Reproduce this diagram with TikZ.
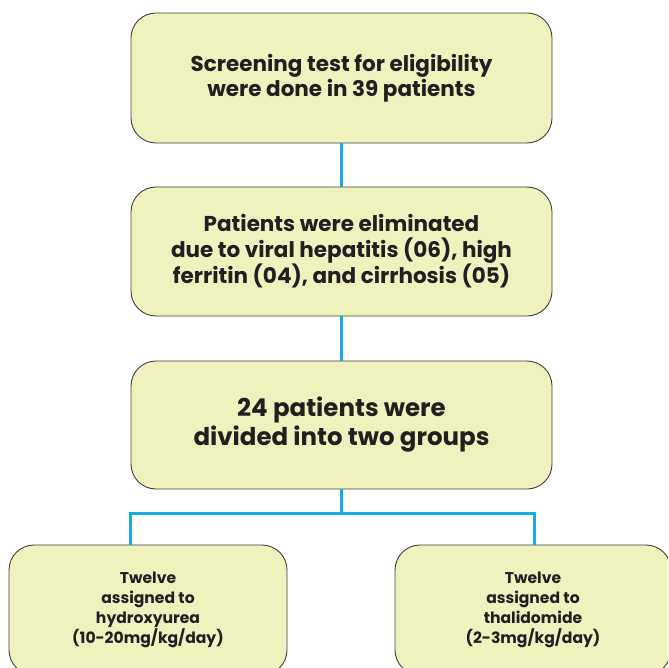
\documentclass[tikz,border=0pt]{standalone}
\usepackage{fontspec}
\setmainfont{Poppins}[BoldFont={* Bold}]
\definecolor{boxfill}{HTML}{F0F2BE}
\definecolor{boxline}{HTML}{3C3C3C}
\definecolor{link}{HTML}{16ACE6}
\definecolor{txt}{HTML}{231F20}
\begin{document}
\begin{tikzpicture}[x=1pt,y=1pt,
  box/.style={draw=boxline, line width=0.9pt, fill=boxfill, rounded corners=25pt,
    align=center, text=txt, inner sep=0pt, font=\bfseries},
  link/.style={draw=link, line width=3pt}]
\useasboundingbox (0,0) rectangle (668,-668);
\clip (0,0) rectangle (668,-668);
\node[box, minimum width=421pt, minimum height=130pt,
  font=\bfseries\fontsize{21.5}{25}\selectfont] (b1) at (341.5,-78)
  {Screening test for eligibility\\were done in 39 patients};
\node[box, minimum width=421pt, minimum height=129pt,
  font=\bfseries\fontsize{21.5}{26}\selectfont] (b2) at (341.5,-251.5)
  {Patients were eliminated\\due to viral hepatitis (06), high\\ferritin (04), and cirrhosis (05)};
\node[box, minimum width=421pt, minimum height=128pt,
  font=\bfseries\fontsize{24.5}{29}\selectfont] (b3) at (341.5,-425)
  {24 patients were\\divided into two groups};
\node[box, minimum width=278pt, minimum height=130pt,
  font=\bfseries\fontsize{15.6}{20}\selectfont] (b4) at (148,-610)
  {Twelve\\assigned to\\hydroxyurea\\(10-20mg/kg/day)};
\node[box, minimum width=276pt, minimum height=130pt,
  font=\bfseries\fontsize{15.6}{20}\selectfont] (b5) at (533,-610)
  {Twelve\\assigned to\\thalidomide\\(2-3mg/kg/day)};
\coordinate (j) at (341.5,-513);
\coordinate (L) at (130,-513);
\coordinate (R) at (534,-513);
\draw[link] (b1.south) -- (b2.north);
\draw[link] (b2.south) -- (b3.north);
\draw[link] (b3.south) -- (j);
\draw[link, line cap=rect] (L) -- (R);
\draw[link] (L) -- (L |- b4.north);
\draw[link] (R) -- (R |- b5.north);
\end{tikzpicture}
\end{document}
